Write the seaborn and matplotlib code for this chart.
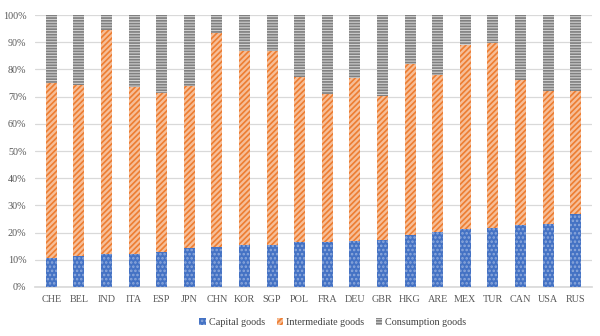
import matplotlib
matplotlib.use("Agg")
import matplotlib.pyplot as plt
import seaborn as sns
import pandas as pd
import numpy as np
from matplotlib.patches import Patch

countries = ["CHE", "BEL", "IND", "ITA", "ESP", "JPN", "CHN", "KOR", "SGP", "POL",
             "FRA", "DEU", "GBR", "HKG", "ARE", "MEX", "TUR", "CAN", "USA", "RUS"]
capital = [10.6, 11.2, 12.0, 12.3, 12.7, 14.2, 14.6, 15.3, 15.6, 16.5,
           16.5, 16.9, 17.2, 19.0, 20.2, 21.5, 21.7, 22.8, 23.3, 26.7]
intermediate = [64.4, 63.1, 82.5, 61.1, 58.6, 59.8, 78.7, 71.6, 71.2, 60.9,
                54.4, 60.0, 53.2, 63.2, 57.7, 67.6, 67.9, 53.3, 48.7, 45.3]
consumption = [100 - c - i for c, i in zip(capital, intermediate)]
yticks = [0, 10, 20, 30, 40, 50, 60, 70, 80, 90, 100]
series_names = ["Capital goods", "Intermediate goods", "Consumption goods"]

df = pd.DataFrame({"country": countries, "capital": capital,
                   "intermediate": intermediate, "consumption": consumption})
df["top_inter"] = df["capital"] + df["intermediate"]
df["top_cons"] = df["top_inter"] + df["consumption"]

sns.set_theme(style="white")
plt.rcParams["font.family"] = ["Liberation Serif", "DejaVu Serif"]
plt.rcParams["hatch.linewidth"] = 1.2

fig = plt.figure(figsize=(6, 3.36), dpi=100)
ax = fig.add_axes([0.058, 0.146, 0.929, 0.809])

blue = "#4472C4"
orange = "#ED7D31"
gray = "#808080"

sns.barplot(data=df, x="country", y="top_cons", ax=ax, color="#D0D0D0",
            width=0.4, edgecolor=gray, hatch="------", linewidth=0, saturation=1, zorder=2)
sns.barplot(data=df, x="country", y="top_inter", ax=ax, color="#F6BE98",
            width=0.4, edgecolor=orange, hatch="//////", linewidth=0, saturation=1, zorder=3)
sns.barplot(data=df, x="country", y="capital", ax=ax, color=blue,
            width=0.4, edgecolor="#8EA9DB", hatch="....", linewidth=0, saturation=1, zorder=4)

ax.set_ylim(0, 100)
ax.set_xlim(-0.6, len(countries) - 0.4)
ax.set_yticks(yticks)
ax.set_yticklabels([f"{v}%" for v in yticks])
ax.yaxis.grid(True, color="#D9D9D9", linewidth=0.9, zorder=0)
ax.set_axisbelow(True)
ax.set_xlabel("")
ax.set_ylabel("")
for s in ["top", "right", "left"]:
    ax.spines[s].set_visible(False)
ax.spines["bottom"].set_color("#D9D9D9")
ax.tick_params(axis="both", length=0, labelsize=7.3, colors="#595959", pad=6)

handles = [Patch(facecolor=blue, edgecolor="#8EA9DB", hatch="....", linewidth=0),
           Patch(facecolor="#F6BE98", edgecolor=orange, hatch="//////", linewidth=0),
           Patch(facecolor="#D0D0D0", edgecolor=gray, hatch="------", linewidth=0)]
fig.legend(handles, series_names, loc="center", bbox_to_anchor=(0.555, 0.04), ncol=3,
           frameon=False, fontsize=7.3, handlelength=0.6, handleheight=0.6,
           handletextpad=0.3, columnspacing=1.2, labelcolor="#404040")

fig.savefig("out.png", dpi=100)
